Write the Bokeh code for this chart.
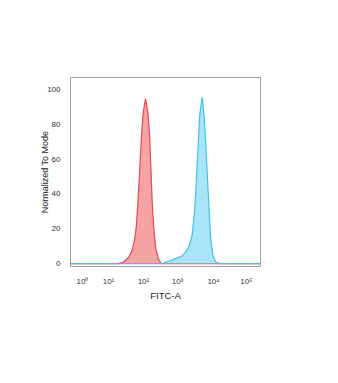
from bokeh.plotting import figure
from bokeh.models import Range1d, FixedTicker
from bokeh.embed import file_html
from bokeh.resources import INLINE

# x in display channel units (0-1000, biexponential FITC-A scale)
tick_pos = [63, 200, 384, 563, 753, 926]
tick_labels = ["10⁰", "10¹", "10²", "10³", "10⁴", "10⁵"]

red_x = [0, 254, 281, 307, 325, 337, 347, 356, 365, 374, 383, 395, 407, 416, 423, 430, 438, 449, 462, 477, 1000]
red_y = [0, 0, 1, 3.8, 7.7, 13.4, 22, 37, 55, 74, 87, 94.8, 87, 74, 55, 35.4, 20, 8.6, 2.9, 0, 0]

blue_x = [0, 483, 509, 544, 579, 600, 623, 640, 653, 663, 672, 680, 693, 703, 712, 721, 730, 738, 749, 763, 781, 1000]
blue_y = [0, 0, 1, 2.5, 3.8, 5.7, 9.6, 16.3, 29.7, 48.9, 68, 85, 95.7, 85, 68, 48.9, 29.7, 14.4, 4.8, 1, 0, 0]

FONT = "Liberation Sans"

p = figure(width=330, height=375, output_backend="svg", toolbar_location=None,
           x_range=Range1d(0, 1000), y_range=Range1d(-1.7, 106.9),
           min_border_left=70, min_border_right=70, min_border_top=77, min_border_bottom=109)
p.background_fill_color = "white"
p.border_fill_color = "white"
p.outline_line_color = "#a0a0a0"
p.outline_line_width = 1
p.grid.visible = False

p.varea(x=red_x, y1=0, y2=red_y, fill_color="#f8a3a3", fill_alpha=1.0)
p.line(red_x, red_y, line_color="#e5484d", line_width=1.2)
p.varea(x=blue_x, y1=0, y2=blue_y, fill_color="#9fe2f7", fill_alpha=0.9)
p.line(blue_x, blue_y, line_color="#3cc3ec", line_width=1.2)

xa = p.xaxis[0]
xa.ticker = FixedTicker(ticks=tick_pos)
xa.major_label_overrides = {t: l for t, l in zip(tick_pos, tick_labels)}
xa.axis_label = "FITC-A"
ya = p.yaxis[0]
ya.ticker = FixedTicker(ticks=[0, 20, 40, 60, 80, 100])
ya.axis_label = "Normalized To Mode"

for ax in (xa, ya):
    ax.axis_line_color = None
    ax.major_tick_line_color = None
    ax.minor_tick_line_color = None
    ax.major_tick_out = 0
    ax.major_tick_in = 0
    ax.minor_tick_out = 0
    ax.minor_tick_in = 0
    ax.major_label_text_font = FONT
    ax.major_label_text_font_size = "8px"
    ax.major_label_text_color = "#333333"
    ax.axis_label_text_font = FONT
    ax.axis_label_text_font_style = "normal"
    ax.axis_label_text_color = "#222222"

xa.major_label_standoff = 10
xa.axis_label_text_font_size = "9.5px"
xa.axis_label_standoff = 1
ya.major_label_standoff = 10
ya.axis_label_text_font_size = "9px"
ya.axis_label_standoff = -6

open("out.html", "w").write(file_html(p, INLINE))
